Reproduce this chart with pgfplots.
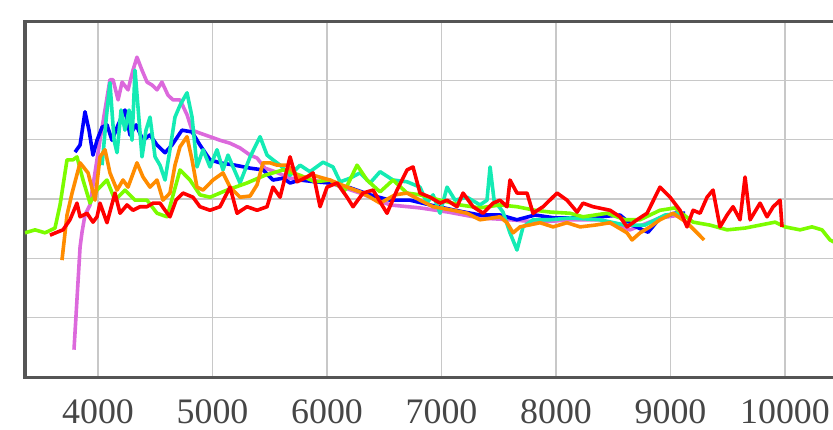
\documentclass[border=0pt]{standalone}
\usepackage{fontspec}
\setmainfont{Liberation Serif}
\usepackage{pgfplots}
\pgfplotsset{compat=1.18}
\definecolor{cviolet}{RGB}{220,105,220}
\definecolor{cblue}{RGB}{0,0,255}
\definecolor{ccyan}{RGB}{20,235,180}
\definecolor{cgreen}{RGB}{124,252,0}
\definecolor{corange}{RGB}{255,140,0}
\definecolor{cred}{RGB}{255,0,0}
\definecolor{gridgray}{RGB}{200,200,200}
\definecolor{bordergray}{RGB}{85,85,85}
\definecolor{labelgray}{RGB}{70,70,70}
\begin{document}
\begin{tikzpicture}
\useasboundingbox (-25bp,-53bp) rectangle (808bp,377bp);
\clip (-25bp,-53bp) rectangle (808bp,377bp);
\begin{axis}[
  scale only axis, width=850bp, height=356bp,
  xmin=3362, xmax=10786, ymin=0, ymax=6,
  xtick={4000,5000,6000,7000,8000,9000,10000},
  ytick={0,1,2,3,4,5,6}, yticklabels={},
  scaled x ticks=false,
  /pgf/number format/1000 sep={},
  /pgf/number format/assume math mode=true,
  grid=major, grid style={color=gridgray, line width=1.2bp},
  axis line style={color=bordergray, line width=3bp},
  tick style={draw=none},
  xticklabel style={font=\fontsize{36}{40}\selectfont, text=labelgray, inner sep=0pt, text depth=0pt, yshift=-22bp},
  every axis plot/.append style={no markers, line width=3.6bp, line join=round},
]
\addplot[cviolet] coordinates {
(3790,0.46)(3843,2.19)(3860,2.44)(3886,2.73)(3930,2.90)(4017,3.99)(4104,5.01)(4131,5.01)(4175,4.67)(4210,4.97)(4262,4.84)(4305,5.17)(4340,5.39)(4384,5.17)(4428,4.97)(4472,4.92)(4515,4.84)(4558,4.97)(4611,4.75)(4655,4.67)(4716,4.67)(4777,4.42)(4821,4.16)(4890,4.11)(4978,4.05)(5065,3.99)(5153,3.94)(5240,3.86)(5328,3.74)(5389,3.69)(5458,3.52)(5546,3.46)(5677,3.35)(5851,3.32)(6026,3.27)(6288,3.10)(6550,2.90)(6812,2.85)(7056,2.78)(7336,2.68)(7598,2.65)(7860,2.61)(8122,2.65)(8384,2.65)(8646,2.48)(8908,2.68)(9083,2.73)
};
\addplot[cblue] coordinates {
(3799,3.79)(3843,3.91)(3886,4.47)(3921,4.16)(3956,3.74)(3991,3.99)(4035,4.21)(4078,4.25)(4122,3.99)(4175,4.25)(4235,4.50)(4279,4.08)(4332,4.25)(4393,3.99)(4454,4.08)(4515,3.91)(4585,3.78)(4646,3.91)(4733,4.16)(4821,4.13)(4890,3.91)(4978,3.66)(5065,3.61)(5196,3.57)(5328,3.52)(5441,3.49)(5528,3.32)(5616,3.35)(5677,3.27)(5764,3.32)(5895,3.29)(6026,3.27)(6201,3.19)(6376,3.07)(6550,2.98)(6725,2.98)(6900,2.90)(7118,2.81)(7336,2.73)(7511,2.73)(7659,2.65)(7817,2.73)(7991,2.68)(8210,2.68)(8384,2.70)(8559,2.73)(8664,2.56)(8804,2.44)(8908,2.68)(9039,2.76)(9127,2.76)
};
\addplot[ccyan] coordinates {
(4035,3.57)(4070,4.33)(4104,4.96)(4140,3.99)(4166,3.78)(4201,4.50)(4235,4.16)(4271,4.50)(4297,3.99)(4323,5.17)(4358,4.33)(4384,3.71)(4419,4.16)(4454,4.38)(4498,3.71)(4541,3.57)(4585,3.32)(4628,3.83)(4672,4.38)(4716,4.58)(4777,4.79)(4821,4.38)(4864,3.54)(4917,3.83)(4978,3.54)(5039,3.83)(5091,3.49)(5135,3.74)(5179,3.54)(5240,3.27)(5328,3.71)(5415,4.05)(5476,3.74)(5528,3.66)(5590,3.57)(5677,3.40)(5764,3.57)(5851,3.46)(5965,3.62)(6052,3.54)(6114,3.29)(6201,3.35)(6288,3.44)(6376,3.27)(6463,3.46)(6576,3.32)(6699,3.29)(6812,3.20)(6873,2.93)(6926,3.07)(6987,2.76)(7048,3.20)(7118,2.98)(7223,3.03)(7336,2.90)(7397,2.98)(7424,3.54)(7459,2.98)(7537,2.78)(7598,2.43)(7659,2.14)(7712,2.53)(7799,2.65)(7948,2.65)(8122,2.68)(8384,2.65)(8603,2.56)(8777,2.56)(8952,2.73)(9083,2.76)
};
\addplot[cgreen] coordinates {
(3362,2.43)(3450,2.48)(3537,2.43)(3624,2.51)(3668,2.90)(3729,3.66)(3781,3.66)(3816,3.71)(3869,3.32)(3930,2.93)(3991,3.15)(4078,3.32)(4148,2.98)(4235,3.15)(4323,2.98)(4428,2.98)(4515,2.76)(4603,2.70)(4716,3.49)(4803,3.32)(4890,3.07)(4978,3.03)(5126,3.15)(5301,3.27)(5458,3.40)(5616,3.49)(5764,3.40)(5895,3.29)(6026,3.32)(6157,3.15)(6262,3.57)(6349,3.32)(6463,3.12)(6576,3.32)(6699,3.10)(6812,3.07)(6987,2.98)(7162,2.90)(7336,2.85)(7511,2.90)(7659,2.87)(7817,2.81)(7948,2.78)(8122,2.76)(8236,2.70)(8446,2.76)(8603,2.65)(8734,2.65)(8908,2.81)(9039,2.85)(9197,2.61)(9345,2.56)(9494,2.48)(9651,2.51)(9782,2.56)(9913,2.61)(10000,2.53)(10131,2.48)(10236,2.53)(10323,2.48)(10393,2.31)(10481,2.22)
};
\addplot[corange] coordinates {
(3685,1.97)(3729,2.73)(3773,3.10)(3843,3.61)(3913,3.44)(3974,2.98)(4017,3.71)(4061,3.83)(4104,3.44)(4166,3.15)(4218,3.32)(4262,3.20)(4340,3.61)(4393,3.37)(4454,3.20)(4515,3.32)(4567,2.98)(4628,3.10)(4672,3.57)(4716,3.88)(4777,4.05)(4821,3.66)(4864,3.20)(4917,3.15)(5004,3.32)(5091,3.44)(5153,3.20)(5240,3.03)(5328,3.05)(5389,3.24)(5441,3.61)(5502,3.61)(5563,3.57)(5651,3.57)(5764,3.35)(5878,3.40)(6026,3.32)(6175,3.20)(6288,3.12)(6376,3.03)(6463,2.93)(6594,3.07)(6699,3.10)(6812,2.98)(6926,2.87)(7101,2.81)(7223,2.76)(7336,2.65)(7511,2.70)(7572,2.60)(7625,2.43)(7686,2.53)(7860,2.60)(7974,2.53)(8096,2.60)(8210,2.53)(8341,2.56)(8472,2.60)(8620,2.43)(8664,2.31)(8734,2.43)(8821,2.53)(8908,2.65)(9022,2.76)(9144,2.60)(9232,2.43)(9293,2.31)
};
\addplot[cred] coordinates {
(3580,2.39)(3642,2.44)(3694,2.48)(3755,2.65)(3816,2.93)(3843,2.70)(3904,2.76)(3956,2.61)(3991,2.70)(4017,2.93)(4078,2.60)(4148,3.10)(4192,2.76)(4253,2.90)(4305,2.81)(4367,2.87)(4428,2.87)(4480,2.93)(4541,2.93)(4585,2.81)(4628,2.70)(4681,2.98)(4742,3.10)(4829,3.03)(4890,2.87)(4978,2.81)(5065,2.87)(5153,3.20)(5214,2.76)(5301,2.87)(5389,2.81)(5476,2.87)(5528,3.20)(5590,3.03)(5677,3.71)(5738,3.29)(5825,3.37)(5878,3.44)(5939,2.87)(6000,3.20)(6087,3.27)(6175,3.03)(6227,2.87)(6314,3.10)(6402,3.15)(6489,2.87)(6524,2.76)(6611,3.15)(6699,3.49)(6751,3.54)(6812,3.10)(6900,3.03)(6987,2.93)(7048,2.98)(7135,2.87)(7188,3.10)(7275,2.87)(7363,2.76)(7450,2.93)(7511,2.98)(7572,2.87)(7598,3.32)(7659,3.10)(7747,3.10)(7799,2.76)(7887,2.87)(8009,3.10)(8096,2.98)(8184,2.78)(8236,2.93)(8323,2.87)(8472,2.81)(8559,2.70)(8620,2.53)(8708,2.65)(8795,2.76)(8908,3.20)(8996,3.03)(9083,2.81)(9144,2.53)(9197,2.81)(9258,2.76)(9319,3.03)(9371,3.15)(9432,2.53)(9494,2.73)(9546,2.87)(9607,2.65)(9651,3.37)(9695,2.65)(9782,2.93)(9843,2.70)(9897,2.87)(9957,2.98)(9974,2.53)
};
\end{axis}
\end{tikzpicture}
\end{document}
